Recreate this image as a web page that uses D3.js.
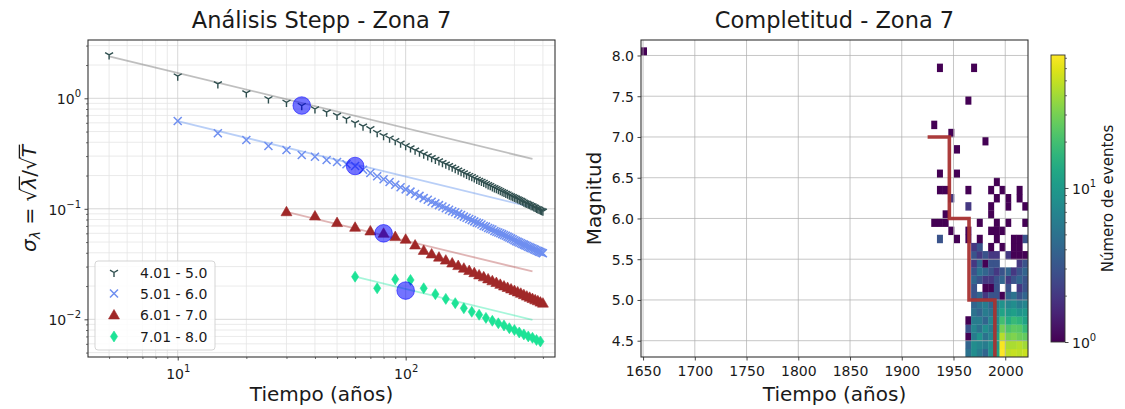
<!DOCTYPE html>
<html><head><meta charset="utf-8">
<script src="https://cdn.jsdelivr.net/npm/d3@7/dist/d3.min.js"></script>
<style>html,body{margin:0;padding:0;background:#fff;overflow:hidden}</style>
</head><body>
<svg id="chart" width="1125" height="409" xmlns="http://www.w3.org/2000/svg"></svg>
<script>
// ===================== DATA =====================
const seriesLabels = ["4.01 - 5.0", "5.01 - 6.0", "6.01 - 7.0", "7.01 - 8.0"];

// Stepp analysis: time windows (years) and sigma values
const tM4 = [5,10,15,20,25,30,35,40,45,50,55,60,65,70,75,80,85,90,95,100,105,110,115,120,125,130,135,140,145,150,155,160,165,170,175,180,185,190,195,200,205,210,215,220,225,230,235,240,245,250,255,260,265,270,275,280,285,290,295,300,305,310,315,320,325,330,335,340,345,350,355,360,365,370,375,380,385,390,395,400];
const sM4 = [2.47,1.59,1.35,1.12,0.99,0.92,0.86,0.80,0.75,0.70,0.65,0.60,0.56,0.53,0.49,0.46,0.435,0.413,0.392,0.372,0.356,0.340,0.326,0.313,0.301,0.290,0.280,0.271,0.262,0.254,0.246,0.238,0.231,0.224,0.217,0.211,0.205,0.200,0.195,0.190,0.185,0.181,0.177,0.173,0.169,0.165,0.162,0.158,0.155,0.152,0.149,0.146,0.143,0.141,0.138,0.136,0.133,0.131,0.129,0.127,0.125,0.123,0.121,0.119,0.117,0.115,0.113,0.112,0.110,0.109,0.107,0.106,0.104,0.103,0.101,0.100,0.099,0.097,0.096,0.095];

const tM5 = [10,15,20,25,30,35,40,45,50,55,60,65,70,75,80,85,90,95,100,105,110,115,120,125,130,135,140,145,150,155,160,165,170,175,180,185,190,195,200,205,210,215,220,225,230,235,240,245,250,255,260,265,270,275,280,285,290,295,300,305,310,315,320,325,330,335,340,345,350,355,360,365,370,375,380,385,390,395,400];
const sM5 = [0.623,0.482,0.420,0.370,0.340,0.307,0.296,0.277,0.265,0.253,0.244,0.226,0.211,0.197,0.185,0.175,0.165,0.157,0.150,0.143,0.136,0.131,0.125,0.121,0.116,0.112,0.108,0.105,0.101,0.098,0.095,0.093,0.090,0.088,0.085,0.083,0.081,0.079,0.077,0.075,0.074,0.072,0.070,0.069,0.067,0.066,0.065,0.063,0.062,0.061,0.060,0.059,0.058,0.057,0.056,0.055,0.054,0.053,0.052,0.051,0.0503,0.0496,0.0488,0.0481,0.0474,0.0467,0.0461,0.0454,0.0448,0.0442,0.0437,0.0431,0.0426,0.0420,0.0415,0.0410,0.0406,0.0401,0.0396];

const tM6 = [30,40,50,60,70,80,90,100,110,120,130,140,150,160,170,180,190,200,210,220,230,240,250,260,270,280,290,300,310,320,330,340,350,360,370,380,390,400];
const sM6 = [0.094,0.086,0.075,0.068,0.063,0.060,0.056,0.053,0.047,0.042,0.0390,0.0365,0.0343,0.0323,0.0306,0.0290,0.0276,0.0264,0.0252,0.0242,0.0232,0.0223,0.0215,0.0207,0.0200,0.0194,0.0188,0.0182,0.0177,0.0172,0.0167,0.0162,0.0158,0.0154,0.0150,0.0147,0.0143,0.0140];

const tM7 = [60,75,90,105,120,135,150,165,180,195,210,225,240,255,270,285,300,315,330,345,360,375,390];
const sM7 = [0.0243,0.0191,0.0230,0.0227,0.0191,0.0169,0.0153,0.0140,0.0126,0.0117,0.0110,0.0103,0.0097,0.0092,0.0088,0.0083,0.0080,0.0076,0.0073,0.0070,0.0068,0.0065,0.0063];

// expected sigma lines (1/sqrt(T)), end points
const fitT0 = [5, 10, 30, 60];
const fitS0 = [2.40, 0.62, 0.094, 0.0243];
const fitT1 = [360, 360, 360, 360];
const fitS1 = [0.283, 0.103, 0.0271, 0.0099];

// completeness points (circles)
const compT = [35, 60, 80, 100];
const compS = [0.86, 0.244, 0.060, 0.0182];

// left axis ticks
const xMajorL = [10, 100];
const xMinorL = [5,6,7,8,9,20,30,40,50,60,70,80,90,200,300,400];
const yMajorL = [1, 0.1, 0.01];
const yMinorL = [0.005,0.006,0.007,0.008,0.009,0.02,0.03,0.04,0.05,0.06,0.07,0.08,0.09,0.2,0.3,0.4,0.5,0.6,0.7,0.8,0.9,2,3];

// Completeness histogram (year bins of 5.5 yr, magnitude bins of 0.1)
const yearBin = 5.5;
const magBin = 0.1;
const denseYears = [1961.5,1967,1972.5,1978,1983.5,1989,1994.5,2000,2005.5,2011,2016.5];
const denseMags = [4.3,4.4,4.5,4.6,4.7,4.8,4.9,5.0,5.1,5.2,5.3,5.4,5.5,5.6];
const denseCounts = [
  [5, 8, 6, 4, 9, 12, 73, 48, 50, 48, 52],
  [4, 8, 7, 6, 8, 10, 70, 42, 42, 45, 40],
  [1, 6, 9, 5, 7, 12, 45, 30, 32, 28, 26],
  [3, 7, 5, 8, 6, 9, 30, 22, 25, 24, 18],
  [1, 6, 6, 4, 7, 8, 20, 14, 18, 16, 12],
  [0, 5, 4, 6, 5, 7, 12, 10, 11, 9, 10],
  [0, 4, 5, 6, 4, 6, 9, 7, 8, 6, 7],
  [0, 3, 4, 2, 3, 3, 1, 4, 5, 3, 4],
  [0, 3, 0, 1, 1, 3, 0, 3, 0, 2, 3],
  [0, 4, 3, 2, 2, 3, 4, 2, 3, 4, 3],
  [0, 3, 5, 4, 3, 2, 3, 4, 2, 3, 4],
  [0, 2, 4, 1, 3, 3, 0, 0, 0, 2, 3],
  [0, 3, 2, 3, 2, 2, 0, 2, 1, 1, 1],
  [0, 2, 3, 0, 1, 0, 1, 0, 1, 1, 0]
];
const sparseYear  = [1648,1934,1967,1961.5,1928.5,1945,1978,1950.5,1934,1950.5,1934,1939.5,1945,1961.5,1983.5,1989,1994.5,2000,1989,2011,2011,2016.5,1961.5,1983.5,2000,1939.5,1983.5,1928.5,1934,1939.5,1972.5,1989,2000,2016.5,1945,1961.5,1983.5,1989,1994.5,1934,1950.5,1961.5,1972.5,1989,2016.5,2005.5,2011];
const sparseMag   = [8.0,7.8,7.8,7.4,7.1,7.0,6.9,6.8,6.5,6.5,6.3,6.3,6.2,6.3,6.3,6.4,6.3,6.2,6.2,6.3,6.2,6.1,6.1,6.1,6.1,6.0,6.0,5.9,5.9,5.9,5.9,5.9,5.9,5.9,5.8,5.8,5.8,5.8,5.8,5.7,5.7,5.7,5.7,5.7,5.7,5.7,5.7];
const sparseCount = [1,1,1,1,1,1,1,1,1,1,1,1,2,1,1,1,1,1,1,1,1,1,2,1,1,1,1,1,1,1,1,1,1,1,1,1,1,1,1,3,1,1,1,1,3,1,1];

// completeness step line
const compYears = [1925, 1946, 1965, 1990];
const compMags = [7.0, 6.0, 5.0, 4.0];

// right axis ticks
const xTicksR = [1650,1700,1750,1800,1850,1900,1950,2000];
const yTicksR = [4.5,5.0,5.5,6.0,6.5,7.0,7.5,8.0];
const cbMajor = [1, 10];
const cbMinor = [2,3,4,5,6,7,8,9,20,30,40,50,60,70];

// ===================== CHART =====================
const FONT = '"DejaVu Sans", sans-serif';
const TXT = '#1a1a1a';
const svg = d3.select('#chart').style('font-family', FONT);
const defs = svg.append('defs');

function styleAxis(g, size) {
  g.select('.domain').remove();
  g.selectAll('.tick line').attr('stroke', '#333').attr('stroke-width', size > 2.5 ? 0.9 : 0.7);
  g.selectAll('.tick text').attr('font-family', FONT).attr('font-size', 14).attr('fill', TXT);
}
function powLabel(sel) {
  sel.each(function(d) {
    const e = Math.round(Math.log10(d));
    const t = d3.select(this); t.text(null);
    t.append('tspan').text('10');
    t.append('tspan').attr('dy', -7).attr('font-size', 10).text(e < 0 ? '\u2212' + (-e) : String(e));
  });
}

// ---------- Left panel ----------
const L = {l: 88, r: 555, t: 40, b: 357};
const x1 = d3.scaleLog().domain([4.04, 452]).range([L.l, L.r]);
const y1 = d3.scaleLog().domain([3.37, 0.00456]).range([L.t, L.b]);
defs.append('clipPath').attr('id', 'clipL').append('rect')
  .attr('x', L.l).attr('y', L.t).attr('width', L.r - L.l).attr('height', L.b - L.t);

const gridL = svg.append('g');
xMinorL.forEach(v => gridL.append('line').attr('x1', x1(v)).attr('x2', x1(v)).attr('y1', L.t).attr('y2', L.b)
  .attr('stroke', '#e4e4e4').attr('stroke-width', 0.8));
yMinorL.forEach(v => gridL.append('line').attr('y1', y1(v)).attr('y2', y1(v)).attr('x1', L.l).attr('x2', L.r)
  .attr('stroke', '#e4e4e4').attr('stroke-width', 0.8));
xMajorL.forEach(v => gridL.append('line').attr('x1', x1(v)).attr('x2', x1(v)).attr('y1', L.t).attr('y2', L.b)
  .attr('stroke', '#d2d2d2').attr('stroke-width', 0.9));
yMajorL.forEach(v => gridL.append('line').attr('y1', y1(v)).attr('y2', y1(v)).attr('x1', L.l).attr('x2', L.r)
  .attr('stroke', '#d2d2d2').attr('stroke-width', 0.9));

const series = [
  {t: tM4, s: sM4, marker: 'tri', color: '#2f4f4f', line: 'rgba(128,128,128,0.5)'},
  {t: tM5, s: sM5, marker: 'x', color: '#6f8ff0', line: 'rgba(100,149,237,0.45)'},
  {t: tM6, s: sM6, marker: 'tri-up', color: '#a02828', line: 'rgba(165,42,42,0.35)'},
  {t: tM7, s: sM7, marker: 'diam', color: '#1de396', line: 'rgba(0,230,150,0.35)'}
];

function drawMarker(g, type, color, cx, cy) {
  if (type === 'tri') {
    g.append('path').attr('d', `M${cx},${cy}v4.6M${cx},${cy}l-4,-2.3M${cx},${cy}l4,-2.3`)
      .attr('stroke', color).attr('stroke-width', 1.4).attr('fill', 'none');
  } else if (type === 'x') {
    g.append('path').attr('d', `M${cx-4},${cy-4}L${cx+4},${cy+4}M${cx-4},${cy+4}L${cx+4},${cy-4}`)
      .attr('stroke', color).attr('stroke-width', 1.5).attr('fill', 'none');
  } else if (type === 'tri-up') {
    g.append('path').attr('d', d3.symbol(d3.symbolTriangle, 52)()).attr('transform', `translate(${cx},${cy + 0.8})`)
      .attr('fill', color).attr('stroke', color).attr('stroke-width', 0.6);
  } else {
    g.append('path').attr('d', `M${cx},${cy-5.5}L${cx+3.6},${cy}L${cx},${cy+5.5}L${cx-3.6},${cy}Z`)
      .attr('fill', color).attr('stroke', color).attr('stroke-width', 0.6);
  }
}

const plotL = svg.append('g').attr('clip-path', 'url(#clipL)');
const lineLog = d3.line().x(d => x1(d[0])).y(d => y1(d[1]));
series.forEach((sr, i) => {
  plotL.append('path').attr('d', lineLog([[fitT0[i], fitS0[i]], [fitT1[i], fitS1[i]]]))
    .attr('stroke', sr.line).attr('stroke-width', 1.8).attr('fill', 'none');
});
series.forEach(sr => {
  const g = plotL.append('g');
  sr.t.forEach((t, j) => drawMarker(g, sr.marker, sr.color, x1(t), y1(sr.s[j])));
});
compT.forEach((t, i) => {
  plotL.append('circle').attr('cx', x1(t)).attr('cy', y1(compS[i])).attr('r', 8.8)
    .attr('fill', '#0000ff').attr('fill-opacity', 0.55).attr('stroke', '#0000ff').attr('stroke-opacity', 0.55);
});

// axes left
const axXL = svg.append('g').attr('transform', `translate(0,${L.b})`)
  .call(d3.axisBottom(x1).tickValues(xMajorL).tickSize(3.5).tickPadding(3.5));
styleAxis(axXL, 3.5);
axXL.selectAll('.tick text').attr('y', 22).attr('dy', 0).call(powLabel);
const axXLm = svg.append('g').attr('transform', `translate(0,${L.b})`)
  .call(d3.axisBottom(x1).tickValues(xMinorL).tickSize(2).tickFormat(''));
styleAxis(axXLm, 2);
const axYL = svg.append('g').attr('transform', `translate(${L.l},0)`)
  .call(d3.axisLeft(y1).tickValues(yMajorL).tickSize(3.5).tickPadding(3.5));
styleAxis(axYL, 3.5);
axYL.selectAll('.tick text').attr('dy', 5.5).call(powLabel);
const axYLm = svg.append('g').attr('transform', `translate(${L.l},0)`)
  .call(d3.axisLeft(y1).tickValues(yMinorL).tickSize(2).tickFormat(''));
styleAxis(axYLm, 2);

svg.append('rect').attr('x', L.l).attr('y', L.t).attr('width', L.r - L.l).attr('height', L.b - L.t)
  .attr('fill', 'none').attr('stroke', '#333').attr('stroke-width', 1.1);

// legend
const lg = svg.append('g');
lg.append('rect').attr('x', 95).attr('y', 261).attr('width', 120).attr('height', 89).attr('rx', 3)
  .attr('fill', '#fff').attr('fill-opacity', 0.85).attr('stroke', '#d0d0d0').attr('stroke-width', 0.9);
const legY = [272.5, 293.5, 315, 336.5];
series.forEach((sr, i) => {
  drawMarker(lg, sr.marker, sr.color, 114, legY[i]);
  lg.append('text').attr('x', 140).attr('y', legY[i] + 5).attr('font-size', 14).attr('fill', TXT).text(seriesLabels[i]);
});

// titles / labels left
svg.append('text').attr('x', (L.l + L.r) / 2).attr('y', 28).attr('text-anchor', 'middle')
  .attr('font-size', 22.5).attr('fill', TXT).text('Análisis Stepp - Zona 7');
svg.append('text').attr('x', (L.l + L.r) / 2).attr('y', 401).attr('text-anchor', 'middle')
  .attr('font-size', 20).attr('fill', TXT).text('Tiempo (años)');

const ylg = svg.append('g').attr('transform', `translate(36,${(L.t + L.b) / 2}) rotate(-90)`);
const ylt = ylg.append('text').attr('text-anchor', 'middle').attr('font-size', 20).attr('fill', TXT);
ylt.append('tspan').attr('font-style', 'italic').text('σ');
ylt.append('tspan').attr('font-size', 14).attr('dy', 4).attr('font-style', 'italic').text('λ');
ylt.append('tspan').attr('dy', -4).text(' = \u221A');
ylt.append('tspan').attr('font-style', 'italic').text('λ');
ylt.append('tspan').text('/\u221A');
ylt.append('tspan').attr('font-style', 'italic').text('T');
try {
  const n = ylt.node();
  [[5, 6], [8, 9]].forEach(([r, c]) => {
    const er = n.getExtentOfChar(r), ec = n.getExtentOfChar(c);
    ylg.append('line').attr('x1', er.x + er.width - 1.2).attr('x2', ec.x + ec.width + 0.5)
      .attr('y1', -16.6).attr('y2', -16.6).attr('stroke', TXT).attr('stroke-width', 1.3);
  });
} catch (e) {}

// ---------- Right panel ----------
const R = {l: 641, r: 1028, t: 40, b: 357};
const x2 = d3.scaleLinear().domain([1648, 2022]).range([R.l, R.r]);
const y2 = d3.scaleLinear().domain([4.3, 8.19]).range([R.b, R.t]);
defs.append('clipPath').attr('id', 'clipR').append('rect')
  .attr('x', R.l).attr('y', R.t).attr('width', R.r - R.l).attr('height', R.b - R.t);

const cells = [];
denseCounts.forEach((row, i) => row.forEach((c, j) => {
  if (c > 0) cells.push({year: denseYears[j], mag: denseMags[i], count: c});
}));
sparseYear.forEach((yr, i) => cells.push({year: yr, mag: sparseMag[i], count: sparseCount[i]}));
const cMax = d3.max(cells, d => d.count);
const color = d3.scaleSequentialLog(d3.interpolateViridis).domain([1, cMax]);

const plotR = svg.append('g').attr('clip-path', 'url(#clipR)');
plotR.selectAll('rect.cell').data(cells).join('rect').attr('class', 'cell')
  .attr('x', d => x2(d.year)).attr('width', d => x2(d.year + yearBin) - x2(d.year) + 0.3)
  .attr('y', d => y2(d.mag + magBin)).attr('height', d => y2(d.mag) - y2(d.mag + magBin) + 0.3)
  .attr('fill', d => color(d.count));

const gridR = svg.append('g');
xTicksR.forEach(v => gridR.append('line').attr('x1', x2(v)).attr('x2', x2(v)).attr('y1', R.t).attr('y2', R.b)
  .attr('stroke', '#b0b0b0').attr('stroke-opacity', 0.8).attr('stroke-width', 0.9));
yTicksR.forEach(v => gridR.append('line').attr('y1', y2(v)).attr('y2', y2(v)).attr('x1', R.l).attr('x2', R.r)
  .attr('stroke', '#b0b0b0').attr('stroke-opacity', 0.8).attr('stroke-width', 0.9));

const stepLine = d3.line().x(d => x2(d[0])).y(d => y2(d[1])).curve(d3.curveStepAfter);
svg.append('g').attr('clip-path', 'url(#clipR)').append('path')
  .attr('d', stepLine(compYears.map((y, i) => [y, compMags[i]])))
  .attr('stroke', '#a83232').attr('stroke-opacity', 0.95).attr('stroke-width', 3.6).attr('fill', 'none');

const axXR = svg.append('g').attr('transform', `translate(0,${R.b})`)
  .call(d3.axisBottom(x2).tickValues(xTicksR).tickSize(3.5).tickFormat(d3.format('d')));
styleAxis(axXR, 3.5);
axXR.selectAll('.tick text').attr('y', 19).attr('dy', 0);
const axYR = svg.append('g').attr('transform', `translate(${R.l},0)`)
  .call(d3.axisLeft(y2).tickValues(yTicksR).tickSize(3.5).tickPadding(3.5).tickFormat(d3.format('.1f')));
styleAxis(axYR, 3.5);
axYR.selectAll('.tick text').attr('dy', 5);

svg.append('rect').attr('x', R.l).attr('y', R.t).attr('width', R.r - R.l).attr('height', R.b - R.t)
  .attr('fill', 'none').attr('stroke', '#333').attr('stroke-width', 1.1);

svg.append('text').attr('x', (R.l + R.r) / 2).attr('y', 28).attr('text-anchor', 'middle')
  .attr('font-size', 22.5).attr('fill', TXT).text('Completitud - Zona 7');
svg.append('text').attr('x', (R.l + R.r) / 2).attr('y', 401).attr('text-anchor', 'middle')
  .attr('font-size', 20).attr('fill', TXT).text('Tiempo (años)');
svg.append('text').attr('transform', `translate(601,${(R.t + R.b) / 2}) rotate(-90)`).attr('text-anchor', 'middle')
  .attr('font-size', 20).attr('fill', TXT).text('Magnitud');

// ---------- Colorbar ----------
const CB = {l: 1051, r: 1065, t: 55, b: 342};
const grad = defs.append('linearGradient').attr('id', 'vir').attr('x1', 0).attr('y1', 1).attr('x2', 0).attr('y2', 0);
d3.range(0, 1.0001, 0.05).forEach(t => grad.append('stop').attr('offset', t).attr('stop-color', d3.interpolateViridis(t)));
svg.append('rect').attr('x', CB.l).attr('y', CB.t).attr('width', CB.r - CB.l).attr('height', CB.b - CB.t)
  .attr('fill', 'url(#vir)').attr('stroke', '#333').attr('stroke-width', 0.9);
const yCb = d3.scaleLog().domain([1, cMax]).range([CB.b, CB.t]);
const axCb = svg.append('g').attr('transform', `translate(${CB.r},0)`)
  .call(d3.axisRight(yCb).tickValues(cbMajor).tickSize(3.5).tickPadding(3.5));
styleAxis(axCb, 3.5);
axCb.selectAll('.tick text').attr('dy', 5.5).call(powLabel);
const axCbm = svg.append('g').attr('transform', `translate(${CB.r},0)`)
  .call(d3.axisRight(yCb).tickValues(cbMinor).tickSize(2).tickFormat(''));
styleAxis(axCbm, 2);
svg.append('text').attr('transform', `translate(1113,${(CB.t + CB.b) / 2}) rotate(-90)`).attr('text-anchor', 'middle')
  .attr('font-size', 15).attr('fill', TXT).text('Número de eventos');
</script></body></html>
